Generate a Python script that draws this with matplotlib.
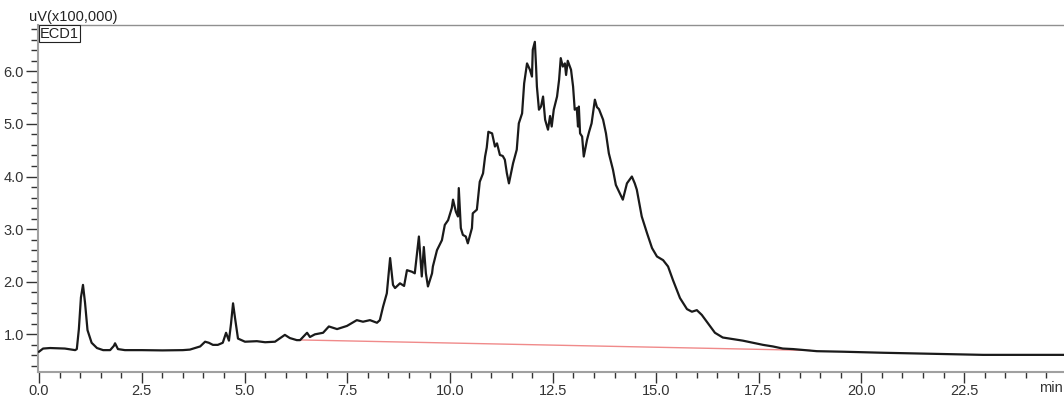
import matplotlib
matplotlib.use("Agg")
import matplotlib.pyplot as plt
from matplotlib.ticker import MultipleLocator, FormatStrFormatter

plt.rcParams['font.family'] = ['Liberation Sans', 'DejaVu Sans']

# Chromatogram trace (time in minutes, signal in uV x100,000)
time_min = [0.00, 0.10, 0.27, 0.63, 0.88, 0.92, 0.97, 1.02, 1.07, 1.12, 1.18, 1.28,
            1.41, 1.56, 1.73, 1.82, 1.85, 1.92, 2.09, 2.50, 3.00, 3.50, 3.67,
            3.92, 4.04, 4.13, 4.23, 4.35, 4.47, 4.55, 4.62, 4.67, 4.72, 4.77, 4.84,
            5.01, 5.30, 5.50, 5.74, 5.98, 6.10, 6.27, 6.35, 6.52, 6.59, 6.71, 6.91,
            7.05, 7.25, 7.49, 7.73, 7.88, 8.05, 8.22, 8.29, 8.37, 8.46, 8.54, 8.61,
            8.66, 8.78, 8.88, 8.95, 9.07, 9.14, 9.24, 9.31, 9.36, 9.41, 9.46, 9.56,
            9.58, 9.68, 9.80, 9.87, 9.95, 10.04, 10.07, 10.14, 10.19, 10.21, 10.26,
            10.31, 10.38, 10.43, 10.53, 10.55, 10.65, 10.72, 10.80, 10.85, 10.89,
            10.93, 11.02, 11.09, 11.14, 11.21, 11.28, 11.33, 11.38, 11.43, 11.53,
            11.62, 11.67, 11.75, 11.80, 11.87, 11.94, 11.99, 12.01, 12.06, 12.09,
            12.11, 12.16, 12.21, 12.26, 12.31, 12.38, 12.43, 12.47, 12.52, 12.60,
            12.65, 12.69, 12.74, 12.79, 12.82, 12.86, 12.94, 12.99, 13.03, 13.08,
            13.11, 13.13, 13.16, 13.21, 13.25, 13.33, 13.38, 13.44, 13.52, 13.57,
            13.62, 13.72, 13.79, 13.86, 13.96, 14.03, 14.11, 14.20, 14.30, 14.42,
            14.49, 14.54, 14.66, 14.79, 14.91, 15.03, 15.18, 15.30, 15.42, 15.59,
            15.76, 15.88, 16.00, 16.12, 16.27, 16.44, 16.63, 16.88, 17.12, 17.36,
            17.61, 17.85, 18.09, 18.34, 18.92, 19.55, 20.53, 21.74, 22.96, 24.17,
            24.93]
signal = [0.67, 0.73, 0.74, 0.73, 0.70, 0.72, 1.10, 1.70, 1.94, 1.60, 1.08, 0.84,
          0.74, 0.70, 0.70, 0.78, 0.83, 0.72, 0.70, 0.70, 0.695, 0.70, 0.71,
          0.77, 0.86, 0.84, 0.80, 0.80, 0.84, 1.03, 0.88, 1.20, 1.59, 1.30, 0.92,
          0.86, 0.87, 0.85, 0.86, 0.99, 0.93, 0.89, 0.89, 1.03, 0.95, 1.00, 1.03,
          1.15, 1.10, 1.16, 1.27, 1.24, 1.27, 1.22, 1.27, 1.53, 1.78, 2.45, 1.94,
          1.88, 1.97, 1.92, 2.22, 2.19, 2.16, 2.86, 2.10, 2.66, 2.16, 1.91, 2.16,
          2.29, 2.60, 2.79, 3.08, 3.17, 3.40, 3.56, 3.33, 3.24, 3.78, 3.02,
          2.89, 2.86, 2.73, 3.02, 3.30, 3.37, 3.90, 4.06, 4.38, 4.55,
          4.85, 4.82, 4.57, 4.63, 4.41, 4.39, 4.32, 4.06, 3.87, 4.25,
          4.51, 5.01, 5.20, 5.77, 6.15, 6.03, 5.90, 6.41, 6.56, 6.09,
          5.71, 5.27, 5.33, 5.52, 5.08, 4.89, 5.15, 4.95, 5.27, 5.52,
          5.84, 6.25, 6.09, 6.15, 5.93, 6.20, 6.03, 5.71, 5.27, 5.30,
          4.95, 5.33, 4.82, 4.76, 4.38, 4.70, 4.85, 5.01, 5.46, 5.32,
          5.28, 5.08, 4.82, 4.44, 4.13, 3.84, 3.71, 3.56, 3.87, 4.00,
          3.87, 3.75, 3.24, 2.92, 2.64, 2.48, 2.41, 2.29, 2.03, 1.69,
          1.48, 1.43, 1.46, 1.37, 1.21, 1.03, 0.94, 0.91, 0.88, 0.84,
          0.80, 0.77, 0.73, 0.72, 0.68, 0.67, 0.65, 0.63, 0.61, 0.61,
          0.61]

# Integration baseline (red)
base_t = [6.27, 18.75]
base_y = [0.895, 0.695]

y_unit_label = "uV(x100,000)"
channel_label = "ECD1"
x_unit_label = "min"

fig = plt.figure(figsize=(10.64, 3.97), dpi=100)
ax = fig.add_axes([38/1064, (397-371.7)/397, 1 - 38/1064, (371.7-25)/397])

ax.plot(base_t, base_y, color='#f08a8a', lw=1.0, zorder=2)
ax.plot(time_min, signal, color='#1a1a1a', lw=1.6, zorder=3)

ax.set_xlim(-0.024, 24.93)
ax.set_ylim(0.29, 6.88)

ax.xaxis.set_major_locator(MultipleLocator(2.5))
ax.xaxis.set_minor_locator(MultipleLocator(0.5))
ax.yaxis.set_major_locator(MultipleLocator(1.0))
ax.yaxis.set_minor_locator(MultipleLocator(0.2))
ax.xaxis.set_major_formatter(FormatStrFormatter('%.1f'))
ax.yaxis.set_major_formatter(FormatStrFormatter('%.1f'))

ax.tick_params(axis='both', which='both', direction='out', colors='#333333',
               width=1)
ax.tick_params(axis='x', which='major', length=8, pad=1, labelsize=10.5)
ax.tick_params(axis='x', which='minor', length=4)
ax.tick_params(axis='y', which='major', length=9, pad=1, labelsize=10.5)
ax.tick_params(axis='y', which='minor', length=5)

for s in ['left', 'bottom']:
    ax.spines[s].set_color('#a0a0a0')
    ax.spines[s].set_linewidth(1.5)
ax.spines['top'].set_color('#909090')
ax.spines['top'].set_linewidth(1.0)
ax.spines['right'].set_visible(False)

fig.text(29/1064, 1 - 17/397, y_unit_label, fontsize=10.5, color='#222222',
         ha='left', va='center')
fig.text(40/1064, 1 - 33.5/397, channel_label, fontsize=10.5, color='#222222',
         ha='left', va='center',
         bbox=dict(boxstyle='square,pad=0.1', fc='white', ec='#222222', lw=0.8))
fig.text(1063/1064, 1 - 388/397, x_unit_label, fontsize=10.5, color='#333333',
         ha='right', va='center')

fig.savefig('out.png', dpi=100)
